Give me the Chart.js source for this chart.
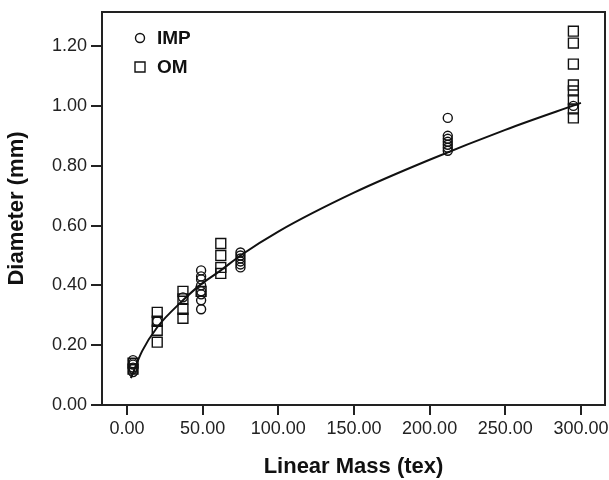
<!DOCTYPE html>
<html>
<head>
<meta charset="utf-8">
<script src="https://cdn.jsdelivr.net/npm/chart.js@4/dist/chart.umd.min.js"></script>
<style>
  html, body { margin: 0; padding: 0; background: #fff; }
</style>
</head>
<body>
<canvas id="DiameterChart" width="609" height="480"></canvas>
<script>
// values
const impMass = [4, 4, 4, 4, 4, 4, 20, 37, 49, 49, 49, 49, 49, 49, 49, 49,
                 75, 75, 75, 75, 75, 75, 212, 212, 212, 212, 212, 212, 212, 295];
const impDiam = [0.15, 0.14, 0.135, 0.125, 0.12, 0.11, 0.28, 0.36, 0.45, 0.43, 0.42, 0.40, 0.38, 0.37, 0.35, 0.32,
                 0.51, 0.50, 0.49, 0.48, 0.47, 0.46, 0.96, 0.90, 0.89, 0.88, 0.87, 0.86, 0.85, 1.00];
const omMass = [4, 4, 20, 20, 20, 20, 37, 37, 37, 37, 49, 62, 62, 62, 62,
                295, 295, 295, 295, 295, 295, 295, 295];
const omDiam = [0.14, 0.12, 0.31, 0.28, 0.25, 0.21, 0.38, 0.355, 0.32, 0.29, 0.38, 0.54, 0.50, 0.46, 0.44,
                1.25, 1.21, 1.14, 1.07, 1.05, 1.02, 0.99, 0.96];
// fitted curve as traced
const fitMass = [2.6, 10, 20, 37, 48, 62, 75, 100, 150, 200, 250, 300];
const fitDiam = [0.09, 0.18, 0.26, 0.35, 0.40, 0.45, 0.50, 0.58, 0.71, 0.82, 0.92, 1.01];

const xTicks = [0, 50, 100, 150, 200, 250, 300];
const yTicks = [0, 0.2, 0.4, 0.6, 0.8, 1.0, 1.2];

const toPts = (xs, ys) => xs.map((x, i) => ({x: x, y: ys[i]}));

const ink = '#111';
const face = '"Liberation Sans", Arial, sans-serif';
const legendItems = [
    {label: 'IMP', style: 'circle'},
    {label: 'OM', style: 'rect'}
];

// box round the plot + legend in the top-left corner
const framePlugin = {
    id: 'frame',
    afterDraw(chart) {
        const {ctx, chartArea: a} = chart;
        ctx.save();
        ctx.strokeStyle = '#222';
        ctx.lineWidth = 2;
        ctx.strokeRect(a.left, a.top, a.right - a.left, a.bottom - a.top);
        ctx.font = 'bold 19px ' + face;
        ctx.fillStyle = ink;
        ctx.textBaseline = 'middle';
        legendItems.forEach((it, i) => {
            const y = a.top + 26 + i * 29;
            const x = a.left + 38;
            ctx.lineWidth = 1.4;
            ctx.strokeStyle = ink;
            ctx.beginPath();
            if (it.style === 'circle') ctx.arc(x, y, 4.5, 0, Math.PI * 2);
            else ctx.rect(x - 5, y - 5, 10, 10);
            ctx.stroke();
            ctx.fillText(it.label, x + 17, y + 1);
        });
        ctx.restore();
    }
};

let chart = new Chart('DiameterChart', {
    type: 'scatter',
    data: {
        datasets: [
            {
                type: 'line',
                label: 'fit',
                data: toPts(fitMass, fitDiam),
                borderColor: ink,
                borderWidth: 2,
                pointRadius: 0,
                fill: false,
                cubicInterpolationMode: 'monotone'
            },
            {
                label: 'IMP',
                data: toPts(impMass, impDiam),
                pointStyle: 'circle',
                pointRadius: 4.5,
                borderColor: ink,
                borderWidth: 1.4,
                backgroundColor: 'rgba(0,0,0,0)'
            },
            {
                label: 'OM',
                data: toPts(omMass, omDiam),
                pointStyle: 'rect',
                pointRadius: 7,
                borderColor: ink,
                borderWidth: 1.4,
                backgroundColor: 'rgba(0,0,0,0)'
            }
        ]
    },
    options: {
        responsive: false,
        animation: false,
        layout: {autoPadding: false, padding: {top: 12, right: 4}},
        plugins: {legend: {display: false}, tooltip: {enabled: false}},
        scales: {
            x: {
                type: 'linear',
                min: -16.5,
                max: 315.9,
                afterBuildTicks: s => { s.ticks = xTicks.map(v => ({value: v})); },
                afterFit: s => { s.height = 75; s.paddingLeft = 0; s.paddingRight = 0; },
                grid: {drawOnChartArea: false, tickLength: 10, color: '#222', lineWidth: 2},
                border: {display: false},
                ticks: {
                    color: '#222',
                    padding: 3,
                    maxRotation: 0,
                    minRotation: 0,
                    autoSkip: false,
                    font: {family: face, size: 18},
                    callback: v => v.toFixed(2)
                },
                title: {
                    display: true,
                    text: 'Linear Mass (tex)',
                    color: ink,
                    padding: {top: 4, bottom: 0},
                    font: {family: face, size: 22, weight: 'bold'}
                }
            },
            y: {
                type: 'linear',
                min: 0,
                max: 1.314,
                afterBuildTicks: s => { s.ticks = yTicks.map(v => ({value: v})); },
                afterFit: s => { s.width = 102; s.paddingTop = 0; s.paddingBottom = 0; },
                grid: {drawOnChartArea: false, tickLength: 11, color: '#222', lineWidth: 2},
                border: {display: false},
                ticks: {
                    color: '#222',
                    padding: 4,
                    autoSkip: false,
                    font: {family: face, size: 18},
                    callback: v => v.toFixed(2)
                },
                title: {
                    display: true,
                    text: 'Diameter (mm)',
                    color: ink,
                    padding: {top: 4, bottom: 0},
                    font: {family: face, size: 22, weight: 'bold'}
                }
            }
        }
    },
    plugins: [framePlugin]
});
</script>
</body>
</html>
